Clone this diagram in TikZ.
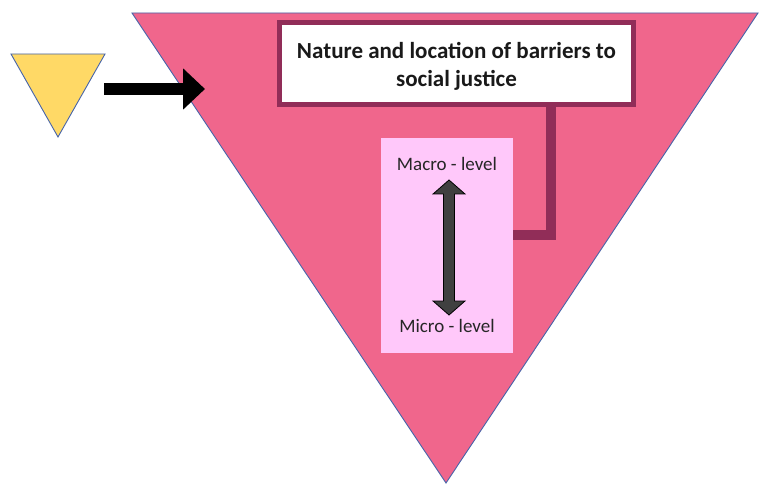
\documentclass[tikz,border=0pt]{standalone}
\usepackage{fontspec}
\setmainfont{Carlito}
\usetikzlibrary{arrows.meta,calc}
\definecolor{funnelpink}{RGB}{240,102,140}
\definecolor{edgeblue}{RGB}{70,100,170}
\definecolor{inputyellow}{RGB}{255,217,102}
\definecolor{maroon}{RGB}{145,45,88}
\definecolor{lightpink}{RGB}{255,200,250}
\definecolor{arrowgrey}{RGB}{64,64,64}
\tikzset{
  outline/.style={draw=edgeblue, line width=0.9},
  titlebox/.style={draw=maroon, line width=5, fill=white, minimum width=354, minimum height=82, inner sep=0},
  titletext/.style={inner sep=0, align=center, font=\bfseries\fontsize{23}{27.5}\selectfont, text=black!90},
  levelbox/.style={fill=lightpink, minimum width=132, minimum height=215, inner sep=0},
  levellabel/.style={font=\fontsize{19}{22}\selectfont, text=black!85, inner sep=0},
  elbow/.style={draw=maroon, line width=10},
  feedarrow/.style={line width=12, -{Triangle[length=22pt,width=40pt]}},
  rangearrow/.style={fill=arrowgrey, draw=black, line width=0.8, line join=miter}
}
\begin{document}
\begin{tikzpicture}[x=1pt,y=-1pt]
\useasboundingbox (0,0) rectangle (764,484);
\fill[white] (0,0) rectangle (764,484);

% large funnel triangle
\filldraw[outline, fill=funnelpink] (132,13) -- (758,13) -- (446,483) -- cycle;

% small input triangle
\filldraw[outline, fill=inputyellow] (11,54) -- (105,54) -- (58,137) -- cycle;

% arrow into the funnel
\coordinate (feedstart) at (104,89);
\coordinate (feedend) at (205,89);
\draw[feedarrow] (feedstart) -- (feedend);

% inner panel with the level scale
\node[levelbox] (levels) at (447,245.5) {};

% elbow connector from the title box to the panel
\coordinate (bend) at (551,235);
\draw[elbow] (551,100) |- (levels.east |- bend);

% title box and its two-line heading
\node[titlebox] (title) at (456.5,63.5) {};
\node[titletext] (heading) at ($(title.center)+(0,3)$) {Nature and location of barriers to\\social justice};

% level labels
\node[levellabel] (macro) at (447,164) {Macro - level};
\node[levellabel] (micro) at (447,326) {Micro - level};

% two-headed scale arrow
\coordinate (scaletop) at (449,180);
\coordinate (scalebottom) at (449,315);
\draw[rangearrow] (scaletop) -- ++(16,14) -- ++(-10.5,0) |- ($(scalebottom)+(5.5,-14)$) -- ++(10.5,0)
  -- (scalebottom) -- ++(-16,-14) -- ++(10.5,0) |- ($(scaletop)+(-5.5,14)$) -- ++(-10.5,0) -- cycle;
\end{tikzpicture}
\end{document}
